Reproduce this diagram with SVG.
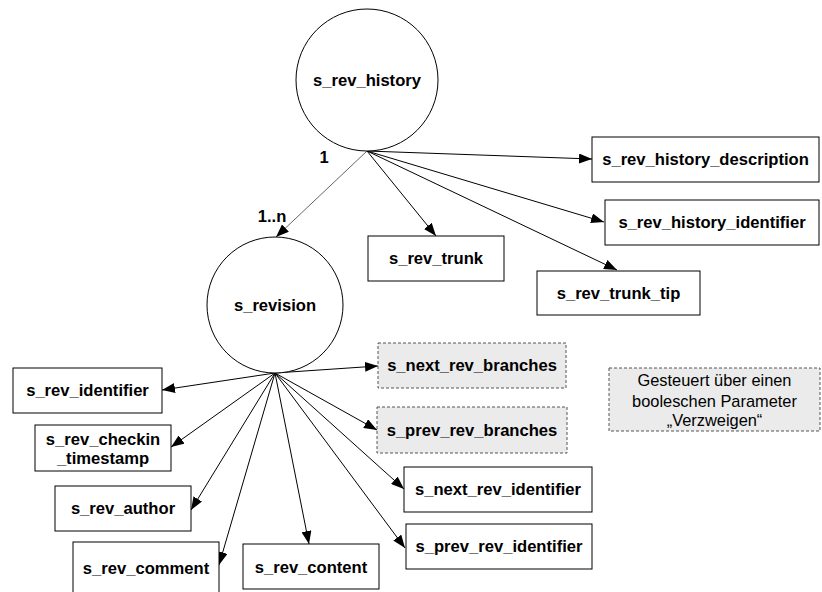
<svg xmlns="http://www.w3.org/2000/svg" width="822" height="592" viewBox="0 0 822 592">
  <defs>
    <marker id="arrow" markerUnits="userSpaceOnUse" markerWidth="13" markerHeight="10" refX="13" refY="5" orient="auto">
      <path d="M0,0 L13,5 L0,10 z" fill="#000"/>
    </marker>
    <style>
      .node { fill: #fff; stroke: #000; stroke-width: 1; }
      .opt { fill: #ebebeb; stroke: #555; stroke-width: 1; stroke-dasharray: 3 2; }
      .lbl { font-family: "Liberation Sans", Arial, sans-serif; font-size: 16.6px; font-weight: bold; fill: #000; text-anchor: middle; }
      .note { font-family: "Liberation Sans", Arial, sans-serif; font-size: 16.4px; fill: #000; text-anchor: middle; }
      .edge { stroke: #000; stroke-width: 1; fill: none; marker-end: url(#arrow); }
      .edge-thin { stroke: #666; stroke-width: 1; fill: none; marker-end: url(#arrow); }
    </style>
  </defs>
  <rect width="822" height="592" fill="#fff"/>

  <!-- connectors -->
  <g id="edges">
    <line class="edge" x1="367" y1="151" x2="592" y2="159"/>
    <line class="edge" x1="367" y1="151" x2="604" y2="222"/>
    <line class="edge" x1="367" y1="151" x2="617" y2="270"/>
    <line class="edge" x1="367" y1="151" x2="436" y2="236"/>
    <line class="edge-thin" x1="367" y1="151" x2="276" y2="237"/>

    <line class="edge" x1="275" y1="373" x2="378" y2="366"/>
    <line class="edge" x1="275" y1="373" x2="377" y2="430"/>
    <line class="edge" x1="275" y1="373" x2="404" y2="489"/>
    <line class="edge" x1="275" y1="373" x2="405" y2="548"/>
    <line class="edge" x1="275" y1="373" x2="309" y2="544"/>
    <line class="edge" x1="275" y1="373" x2="219" y2="565"/>
    <line class="edge" x1="275" y1="373" x2="191" y2="510"/>
    <line class="edge" x1="275" y1="373" x2="171" y2="447"/>
    <line class="edge" x1="275" y1="373" x2="162" y2="390"/>
  </g>

  <!-- multiplicities -->
  <g id="multiplicities">
    <text class="lbl" x="324" y="163">1</text>
    <text class="lbl" x="272" y="222">1..n</text>
  </g>

  <g id="s_rev_history">
    <circle class="node" cx="367" cy="80" r="71"/>
    <text class="lbl" x="367" y="86">s_rev_history</text>
  </g>
  <g id="s_revision">
    <circle class="node" cx="275" cy="305" r="68"/>
    <text class="lbl" x="275" y="311">s_revision</text>
  </g>

  <g id="s_rev_history_description">
    <rect class="node" x="592" y="137" width="227" height="45"/>
    <text class="lbl" x="705.5" y="165">s_rev_history_description</text>
  </g>
  <g id="s_rev_history_identifier">
    <rect class="node" x="605" y="200" width="214" height="45"/>
    <text class="lbl" x="712" y="228">s_rev_history_identifier</text>
  </g>
  <g id="s_rev_trunk">
    <rect class="node" x="368" y="236" width="136" height="45"/>
    <text class="lbl" x="436" y="264">s_rev_trunk</text>
  </g>
  <g id="s_rev_trunk_tip">
    <rect class="node" x="537" y="271" width="163" height="44"/>
    <text class="lbl" x="618.5" y="299">s_rev_trunk_tip</text>
  </g>

  <g id="s_next_rev_branches">
    <rect class="opt" x="378" y="343" width="188" height="45"/>
    <text class="lbl" x="472" y="371">s_next_rev_branches</text>
  </g>
  <g id="s_prev_rev_branches">
    <rect class="opt" x="377" y="407" width="190" height="46"/>
    <text class="lbl" x="472" y="436">s_prev_rev_branches</text>
  </g>
  <g id="s_next_rev_identifier">
    <rect class="node" x="404" y="467" width="188" height="45"/>
    <text class="lbl" x="498" y="495">s_next_rev_identifier</text>
  </g>
  <g id="s_prev_rev_identifier">
    <rect class="node" x="406" y="524" width="186" height="45"/>
    <text class="lbl" x="499" y="552">s_prev_rev_identifier</text>
  </g>

  <g id="s_rev_identifier">
    <rect class="node" x="13" y="368" width="149" height="45"/>
    <text class="lbl" x="87.5" y="396">s_rev_identifier</text>
  </g>
  <g id="s_rev_checkin_timestamp">
    <rect class="node" x="35" y="425" width="136" height="46"/>
    <text class="lbl" x="103" y="445">s_rev_checkin</text>
    <text class="lbl" x="103" y="464">_timestamp</text>
  </g>
  <g id="s_rev_author">
    <rect class="node" x="55" y="486" width="136" height="45"/>
    <text class="lbl" x="123" y="514">s_rev_author</text>
  </g>
  <g id="s_rev_comment">
    <rect class="node" x="73" y="542" width="146" height="60"/>
    <text class="lbl" x="146" y="574">s_rev_comment</text>
  </g>
  <g id="s_rev_content">
    <rect class="node" x="243" y="544" width="136" height="45"/>
    <text class="lbl" x="311" y="573">s_rev_content</text>
  </g>

  <g id="note">
    <rect class="opt" x="609" y="368" width="211" height="63"/>
    <text class="note" x="714.5" y="386">Gesteuert über einen</text>
    <text class="note" x="714.5" y="407">booleschen Parameter</text>
    <text class="note" x="714.5" y="426">„Verzweigen“</text>
  </g>
</svg>
